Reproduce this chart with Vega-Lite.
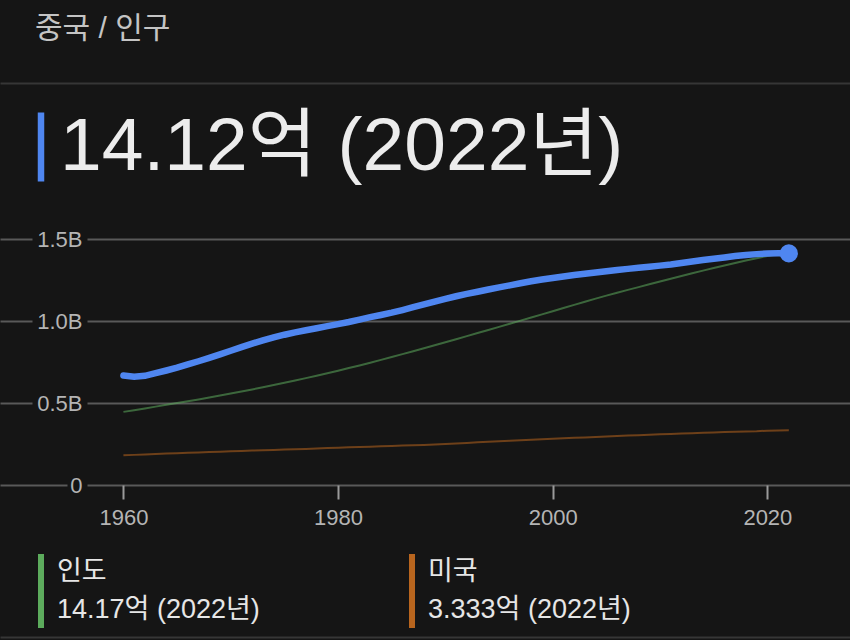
{
 "$schema": "https://vega.github.io/schema/vega-lite/v6.json",
 "width": 850,
 "height": 246,
 "autosize": {"type": "none"},
 "padding": {"left": 0, "right": 0, "top": 239, "bottom": 155},
 "background": "#151515",
 "config": {"view": {"stroke": null}, "font": "Liberation Sans, Noto Sans CJK KR, sans-serif"},
 "title": {"text": "중국 / 인구", "anchor": "start", "frame": "group", "dx": 35, "offset": 9, "fontSize": 30, "fontWeight": "normal", "color": "#c4c4c4", "baseline": "bottom"},
 "datasets": {
  "pop": [
   {"country":"중국","year":1960,"pop":667.07},{"country":"중국","year":1961,"pop":660.33},{"country":"중국","year":1962,"pop":665.77},{"country":"중국","year":1963,"pop":682.34},{"country":"중국","year":1964,"pop":698.36},{"country":"중국","year":1965,"pop":715.19},{"country":"중국","year":1966,"pop":735.40},{"country":"중국","year":1967,"pop":754.55},{"country":"중국","year":1968,"pop":774.51},{"country":"중국","year":1969,"pop":796.03},
   {"country":"중국","year":1970,"pop":818.32},{"country":"중국","year":1971,"pop":841.11},{"country":"중국","year":1972,"pop":862.03},{"country":"중국","year":1973,"pop":881.94},{"country":"중국","year":1974,"pop":900.35},{"country":"중국","year":1975,"pop":916.40},{"country":"중국","year":1976,"pop":930.69},{"country":"중국","year":1977,"pop":943.46},{"country":"중국","year":1978,"pop":956.17},{"country":"중국","year":1979,"pop":969.01},
   {"country":"중국","year":1980,"pop":981.24},{"country":"중국","year":1981,"pop":993.89},{"country":"중국","year":1982,"pop":1008.63},{"country":"중국","year":1983,"pop":1023.31},{"country":"중국","year":1984,"pop":1036.83},{"country":"중국","year":1985,"pop":1051.04},{"country":"중국","year":1986,"pop":1066.79},{"country":"중국","year":1987,"pop":1084.04},{"country":"중국","year":1988,"pop":1101.63},{"country":"중국","year":1989,"pop":1118.65},
   {"country":"중국","year":1990,"pop":1135.19},{"country":"중국","year":1991,"pop":1150.78},{"country":"중국","year":1992,"pop":1164.97},{"country":"중국","year":1993,"pop":1178.44},{"country":"중국","year":1994,"pop":1191.84},{"country":"중국","year":1995,"pop":1204.86},{"country":"중국","year":1996,"pop":1217.55},{"country":"중국","year":1997,"pop":1230.08},{"country":"중국","year":1998,"pop":1241.94},{"country":"중국","year":1999,"pop":1252.74},
   {"country":"중국","year":2000,"pop":1262.65},{"country":"중국","year":2001,"pop":1271.85},{"country":"중국","year":2002,"pop":1280.40},{"country":"중국","year":2003,"pop":1288.40},{"country":"중국","year":2004,"pop":1296.08},{"country":"중국","year":2005,"pop":1303.72},{"country":"중국","year":2006,"pop":1311.02},{"country":"중국","year":2007,"pop":1317.89},{"country":"중국","year":2008,"pop":1324.66},{"country":"중국","year":2009,"pop":1331.26},
   {"country":"중국","year":2010,"pop":1337.71},{"country":"중국","year":2011,"pop":1345.04},{"country":"중국","year":2012,"pop":1354.19},{"country":"중국","year":2013,"pop":1363.24},{"country":"중국","year":2014,"pop":1371.86},{"country":"중국","year":2015,"pop":1379.86},{"country":"중국","year":2016,"pop":1387.79},{"country":"중국","year":2017,"pop":1396.22},{"country":"중국","year":2018,"pop":1402.76},{"country":"중국","year":2019,"pop":1407.75},
   {"country":"중국","year":2020,"pop":1411.10},{"country":"중국","year":2021,"pop":1412.36},{"country":"중국","year":2022,"pop":1412.18},
   {"country":"인도","year":1960,"pop":445.95},{"country":"인도","year":1961,"pop":456.35},{"country":"인도","year":1962,"pop":467.02},{"country":"인도","year":1963,"pop":477.93},{"country":"인도","year":1964,"pop":489.06},{"country":"인도","year":1965,"pop":500.11},{"country":"인도","year":1966,"pop":510.99},{"country":"인도","year":1967,"pop":521.99},{"country":"인도","year":1968,"pop":533.43},{"country":"인도","year":1969,"pop":545.31},
   {"country":"인도","year":1970,"pop":557.50},{"country":"인도","year":1971,"pop":570.00},{"country":"인도","year":1972,"pop":582.84},{"country":"인도","year":1973,"pop":596.11},{"country":"인도","year":1974,"pop":609.72},{"country":"인도","year":1975,"pop":623.52},{"country":"인도","year":1976,"pop":637.45},{"country":"인도","year":1977,"pop":651.69},{"country":"인도","year":1978,"pop":666.27},{"country":"인도","year":1979,"pop":681.25},
   {"country":"인도","year":1980,"pop":696.83},{"country":"인도","year":1981,"pop":712.87},{"country":"인도","year":1982,"pop":729.17},{"country":"인도","year":1983,"pop":745.83},{"country":"인도","year":1984,"pop":762.90},{"country":"인도","year":1985,"pop":780.24},{"country":"인도","year":1986,"pop":797.81},{"country":"인도","year":1987,"pop":815.62},{"country":"인도","year":1988,"pop":833.73},{"country":"인도","year":1989,"pop":852.01},
   {"country":"인도","year":1990,"pop":870.45},{"country":"인도","year":1991,"pop":888.94},{"country":"인도","year":1992,"pop":907.57},{"country":"인도","year":1993,"pop":926.35},{"country":"인도","year":1994,"pop":945.26},{"country":"인도","year":1995,"pop":964.28},{"country":"인도","year":1996,"pop":983.28},{"country":"인도","year":1997,"pop":1002.34},{"country":"인도","year":1998,"pop":1021.43},{"country":"인도","year":1999,"pop":1040.50},
   {"country":"인도","year":2000,"pop":1059.63},{"country":"인도","year":2001,"pop":1078.97},{"country":"인도","year":2002,"pop":1098.31},{"country":"인도","year":2003,"pop":1117.42},{"country":"인도","year":2004,"pop":1136.26},{"country":"인도","year":2005,"pop":1154.64},{"country":"인도","year":2006,"pop":1172.37},{"country":"인도","year":2007,"pop":1189.69},{"country":"인도","year":2008,"pop":1206.73},{"country":"인도","year":2009,"pop":1223.64},
   {"country":"인도","year":2010,"pop":1240.61},{"country":"인도","year":2011,"pop":1257.62},{"country":"인도","year":2012,"pop":1274.49},{"country":"인도","year":2013,"pop":1291.13},{"country":"인도","year":2014,"pop":1307.25},{"country":"인도","year":2015,"pop":1322.87},{"country":"인도","year":2016,"pop":1338.64},{"country":"인도","year":2017,"pop":1354.20},{"country":"인도","year":2018,"pop":1369.00},{"country":"인도","year":2019,"pop":1383.11},
   {"country":"인도","year":2020,"pop":1396.39},{"country":"인도","year":2021,"pop":1407.56},{"country":"인도","year":2022,"pop":1417.17},
   {"country":"미국","year":1960,"pop":180.67},{"country":"미국","year":1961,"pop":183.69},{"country":"미국","year":1962,"pop":186.54},{"country":"미국","year":1963,"pop":189.24},{"country":"미국","year":1964,"pop":191.89},{"country":"미국","year":1965,"pop":194.30},{"country":"미국","year":1966,"pop":196.56},{"country":"미국","year":1967,"pop":198.71},{"country":"미국","year":1968,"pop":200.71},{"country":"미국","year":1969,"pop":202.68},
   {"country":"미국","year":1970,"pop":205.05},{"country":"미국","year":1971,"pop":207.66},{"country":"미국","year":1972,"pop":209.90},{"country":"미국","year":1973,"pop":211.91},{"country":"미국","year":1974,"pop":213.85},{"country":"미국","year":1975,"pop":215.97},{"country":"미국","year":1976,"pop":218.04},{"country":"미국","year":1977,"pop":220.24},{"country":"미국","year":1978,"pop":222.58},{"country":"미국","year":1979,"pop":225.06},
   {"country":"미국","year":1980,"pop":227.23},{"country":"미국","year":1981,"pop":229.47},{"country":"미국","year":1982,"pop":231.66},{"country":"미국","year":1983,"pop":233.79},{"country":"미국","year":1984,"pop":235.82},{"country":"미국","year":1985,"pop":237.92},{"country":"미국","year":1986,"pop":240.13},{"country":"미국","year":1987,"pop":242.29},{"country":"미국","year":1988,"pop":244.50},{"country":"미국","year":1989,"pop":246.82},
   {"country":"미국","year":1990,"pop":249.62},{"country":"미국","year":1991,"pop":252.98},{"country":"미국","year":1992,"pop":256.51},{"country":"미국","year":1993,"pop":259.92},{"country":"미국","year":1994,"pop":263.13},{"country":"미국","year":1995,"pop":266.28},{"country":"미국","year":1996,"pop":269.39},{"country":"미국","year":1997,"pop":272.66},{"country":"미국","year":1998,"pop":275.85},{"country":"미국","year":1999,"pop":279.04},
   {"country":"미국","year":2000,"pop":282.16},{"country":"미국","year":2001,"pop":284.97},{"country":"미국","year":2002,"pop":287.63},{"country":"미국","year":2003,"pop":290.11},{"country":"미국","year":2004,"pop":292.81},{"country":"미국","year":2005,"pop":295.52},{"country":"미국","year":2006,"pop":298.38},{"country":"미국","year":2007,"pop":301.23},{"country":"미국","year":2008,"pop":304.09},{"country":"미국","year":2009,"pop":306.77},
   {"country":"미국","year":2010,"pop":309.33},{"country":"미국","year":2011,"pop":311.58},{"country":"미국","year":2012,"pop":313.88},{"country":"미국","year":2013,"pop":316.06},{"country":"미국","year":2014,"pop":318.39},{"country":"미국","year":2015,"pop":320.74},{"country":"미국","year":2016,"pop":323.07},{"country":"미국","year":2017,"pop":325.12},{"country":"미국","year":2018,"pop":326.84},{"country":"미국","year":2019,"pop":328.33},
   {"country":"미국","year":2020,"pop":331.51},{"country":"미국","year":2021,"pop":332.03},{"country":"미국","year":2022,"pop":333.29}
  ]
 },
 "data": {"name": "pop"},
 "resolve": {"scale": {"color": "independent"}, "axis": {"x": "independent"}},
 "layer": [
  {
   "transform": [{"filter": "datum.country != '중국'"}],
   "mark": {"type": "line", "strokeWidth": 2, "strokeOpacity": 0.55},
   "encoding": {
    "x": {"field": "year", "type": "quantitative",
     "scale": {"domain": [1948.5, 2027.7], "nice": false, "zero": false},
     "axis": {"orient": "bottom", "values": [1960, 1980, 2000, 2020], "format": "d", "domain": false, "grid": false, "ticks": true, "tickSize": 14, "tickWidth": 2, "tickColor": "#9a9a9a", "labelFontSize": 22, "labelColor": "#b4b4b4", "labelPadding": 8, "title": null}},
    "y": {"field": "pop", "type": "quantitative",
     "scale": {"domain": [0, 1500], "nice": false},
     "axis": {"orient": "left", "values": [0, 500, 1000, 1500], "domain": false, "ticks": false, "tickSize": 0, "labelPadding": -82, "labelFontSize": 22, "labelColor": "#b4b4b4",
      "labelExpr": "datum.value == 0 ? '0' : format(datum.value / 1000, '.1f') + 'B'",
      "grid": true, "gridColor": "#595959", "gridWidth": 2,
      "gridDash": {"condition": {"test": "datum.value == 0", "value": [67, 20, 900]}, "value": [32, 55, 900]},
      "title": null}},
    "color": {"field": "country", "type": "nominal",
     "scale": {"domain": ["인도", "미국"], "range": ["#5cab5c", "#b8651e"]},
     "legend": {"orient": "none", "legendX": 38, "legendY": 312, "direction": "horizontal", "columns": 2, "columnPadding": 140, "title": null, "padding": 0,
      "symbolType": "M-1,-1L-1,1", "symbolSize": 5476, "symbolStrokeWidth": 6, "symbolOpacity": 1,
      "labelFontSize": 27, "labelColor": "#e6e6e6", "labelOffset": -61, "labelLimit": 1000,
      "labelExpr": "datum.value == '인도' ? ['인도', '14.17억 (2022년)'] : ['미국', '3.333억 (2022년)']",
      "encode": {"labels": {"update": {"lineHeight": {"value": 37.5}, "dy": {"value": -19}}}}}}
   }
  },
  {
   "transform": [{"filter": "datum.country == '중국'"}],
   "mark": {"type": "line", "strokeWidth": 6.5, "strokeCap": "round"},
   "encoding": {
    "x": {"field": "year", "type": "quantitative",
     "axis": {"orient": "top", "offset": 156, "domain": true, "domainColor": "#363636", "domainWidth": 2, "labels": false, "ticks": false, "grid": false, "title": null}},
    "y": {"field": "pop", "type": "quantitative"},
    "color": {"field": "country", "type": "nominal",
     "scale": {"domain": ["중국"], "range": ["#4f86f0"]},
     "legend": {"orient": "none", "legendX": 37.5, "legendY": -130, "title": null, "padding": 0,
      "symbolType": "M-1,-1L-1,1", "symbolSize": 4761, "symbolStrokeWidth": 6.5, "symbolOpacity": 1,
      "labelFontSize": 75, "labelColor": "#ececec", "labelOffset": -53.5, "labelLimit": 1000,
      "labelExpr": "'14.12억 (2022년)'"}}
   }
  },
  {
   "transform": [{"filter": "datum.country == '중국' && datum.year == 2022"}],
   "mark": {"type": "point", "filled": true, "size": 330, "color": "#4f86f0", "opacity": 1},
   "encoding": {
    "x": {"field": "year", "type": "quantitative",
     "axis": {"orient": "bottom", "offset": 152, "domain": true, "domainColor": "#363636", "domainWidth": 2, "labels": false, "ticks": false, "grid": false, "title": null}},
    "y": {"field": "pop", "type": "quantitative"}
   }
  }
 ]
}
